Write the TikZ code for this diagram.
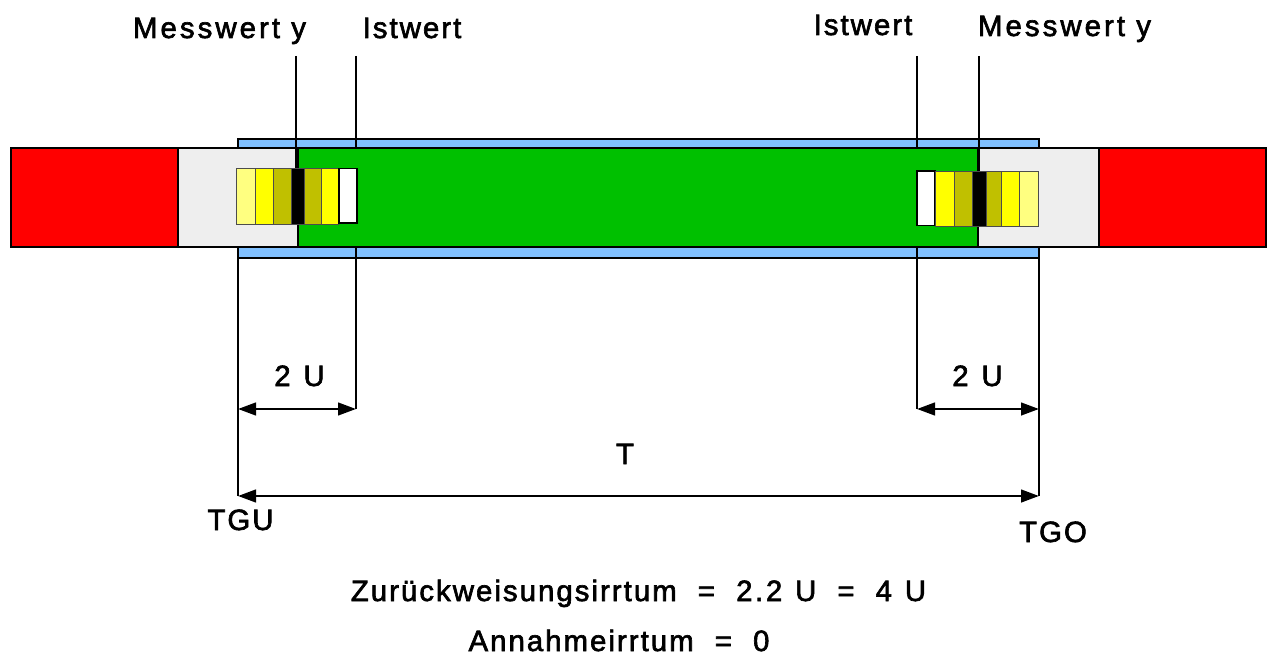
\documentclass[tikz,border=0pt]{standalone}
\usepackage{fontspec}
\setmainfont[LetterSpace=7,FakeBold=2.2]{Liberation Sans}
\usetikzlibrary{arrows.meta}
\definecolor{cblue}{RGB}{128,192,255}
\definecolor{cgreen}{RGB}{0,192,0}
\definecolor{cgray}{RGB}{238,238,238}
\definecolor{cpale}{RGB}{255,255,128}
\definecolor{colive}{RGB}{192,192,0}
\definecolor{cyel}{RGB}{255,255,0}
\definecolor{cred}{RGB}{255,0,0}
\newcommand{\gapsp}{\hspace{8.2pt} }
\tikzset{
  x=0.75pt,y=-0.75pt,
  box/.style={draw=black,line width=0.85pt},
  stripe/.style={draw=black!70,line width=0.7pt},
  guide/.style={line width=1.8pt,line cap=butt},
  dim/.style={line width=1.8pt,{Triangle[length=13.5pt,width=9.5pt]}-{Triangle[length=13.5pt,width=9.5pt]}},
  lbl/.style={anchor=base,inner sep=0pt,font=\fontsize{22}{26}\selectfont},
  widelbl/.style={lbl,font=\fontsize{22}{26}\selectfont\addfontfeature{LetterSpace=10.5}}
}
\begin{document}
\begin{tikzpicture}
\useasboundingbox (0,0) rectangle (1268,656);
% tolerance band
\draw[box,fill=cblue] (238,139) rectangle (1039,258);
% named guide ends
\coordinate (mlt) at (296,56); \coordinate (mlb) at (296,168);
\coordinate (ilt) at (356,56); \coordinate (ilb) at (356,409);
\coordinate (irt) at (917,56); \coordinate (irb) at (917,409);
\coordinate (mrt) at (979,56); \coordinate (mrb) at (979,171);
\coordinate (tlt) at (238,258); \coordinate (tl2) at (238,409); \coordinate (tlb) at (238,496);
\coordinate (trt) at (1039,258); \coordinate (tr2) at (1039,409); \coordinate (trb) at (1039,496);
\draw[guide] (ilt) -- (ilb);
\draw[guide] (irt) -- (irb);
\draw[guide] (tlt) -- (tlb);
\draw[guide] (trt) -- (trb);
% bars
\draw[box,fill=cred] (11,148) rectangle (178,247);
\draw[box,fill=cred] (1099,148) rectangle (1266,247);
\draw[box,fill=cgray] (178,148) rectangle (298,247);
\draw[box,fill=cgray] (978,148) rectangle (1099,247);
\draw[box,fill=cgreen] (298,148) rectangle (978,247);
\draw[guide] (mlt) -- (mlb);
\draw[guide] (mrt) -- (mrb);
% left stripes
\draw[stripe,fill=cpale] (236,168.5) rectangle (255,224);
\draw[stripe,fill=cyel] (255,168.5) rectangle (273,224);
\draw[stripe,fill=colive] (273,168.5) rectangle (291,224);
\draw[stripe,fill=black] (291,168.5) rectangle (304,224);
\draw[stripe,fill=colive] (304,168.5) rectangle (321,224);
\draw[stripe,fill=cyel] (321,168.5) rectangle (338,224);
\draw[box,fill=white] (339,168.5) rectangle (357,223);
% right stripes
\draw[box,fill=white] (917,171) rectangle (935,225.5);
\draw[stripe,fill=cyel] (935,171) rectangle (954,226);
\draw[stripe,fill=colive] (954,171) rectangle (972,226);
\draw[stripe,fill=black] (972,171) rectangle (986,226);
\draw[stripe,fill=colive] (986,171) rectangle (1001,226);
\draw[stripe,fill=cyel] (1001,171) rectangle (1019,226);
\draw[stripe,fill=cpale] (1019,171) rectangle (1038,226);
% dimensions
\draw[dim] (tl2) -- (ilb);
\draw[dim] (irb) -- (tr2);
\draw[dim] (tlb) -- (trb);
% labels
\node[widelbl] (m1) at (219.5,38) {Messwert y};
\node[lbl] (i1) at (412,38) {Istwert};
\node[lbl] (i2) at (863,35) {Istwert};
\node[widelbl] (m2) at (1064.5,36) {Messwert y};
\node[lbl] (u1) at (299.5,386) {2\hspace{2pt} U};
\node[lbl] (u2) at (977.5,386) {2\hspace{2pt} U};
\node[lbl] (t) at (625,464) {T};
\node[lbl] (tgu) at (240.5,530) {TGU};
\node[lbl] (tgo) at (1053,542) {TGO};
\node[lbl] (z) at (638.5,601) {Zurückweisungsirrtum\gapsp=\gapsp2\kern2pt.\kern2pt2\hspace{2pt} U\gapsp=\gapsp4\hspace{2pt} U};
\node[lbl] (a) at (619,651) {Annahmeirrtum\gapsp=\gapsp0};
\end{tikzpicture}
\end{document}
